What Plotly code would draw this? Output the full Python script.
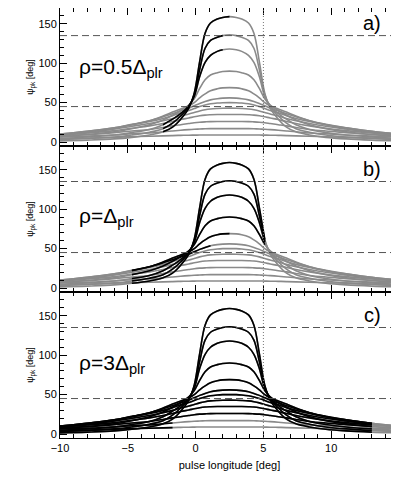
import plotly.graph_objects as go
from plotly.subplots import make_subplots

# pulse longitude sample points (deg)
lon = [-10, -8, -6, -4.7, -3.4, -2.4, -1.7, -1.1, -0.5, -0.1, 0.3, 0.7, 1.1, 1.6, 2.0,
       2.5, 3.0, 3.4, 3.9, 4.3, 4.7, 5.1, 5.5, 6.1, 6.7, 7.4, 8.4, 9.6, 11.1, 13, 15]

# psi_pk curves (same family in all three panels)
psi1 = [1.5, 2.5, 4, 6, 9, 13, 19, 29, 43, 62, 102, 138, 151, 156, 158,
        159, 158, 156, 151, 138, 102, 62, 43, 29, 19, 13, 9, 6, 4, 2.5, 1.5]
psi2 = [3, 4.5, 6.5, 9, 12.5, 17, 24, 33, 45, 60, 92, 119, 129, 133, 135,
        136, 135, 133, 129, 119, 92, 60, 45, 33, 24, 17, 12.5, 9, 6.5, 4.5, 3]
psi3 = [4.5, 6.5, 9, 12, 16, 22, 29, 36, 46, 58, 83, 101, 110, 115, 117,
        118, 117, 115, 110, 101, 83, 58, 46, 36, 29, 22, 16, 12, 9, 6.5, 4.5]
psi4 = [6.5, 9.5, 13, 17, 22, 28, 34, 40, 47, 55, 68, 79, 85, 88, 89.5,
        90, 89.5, 88, 85, 79, 68, 55, 47, 40, 34, 28, 22, 17, 13, 9.5, 6.5]
psi5 = [8.5, 12, 17, 22, 27, 33, 38, 42, 46, 50, 56, 61, 65, 67.5, 68.7,
        69, 68.7, 67.5, 65, 61, 56, 50, 46, 42, 38, 33, 27, 22, 17, 12, 8.5]
psi6 = [10, 13.5, 18, 22.5, 27, 32, 36, 39.5, 43, 46, 49, 51.5, 53.5, 55, 55.7,
        56, 55.7, 55, 53.5, 51.5, 49, 46, 43, 39.5, 36, 32, 27, 22.5, 18, 13.5, 10]
psi7 = [10, 13.5, 18, 22, 26, 30, 33.5, 37, 40, 42.5, 45, 47, 48.5, 49.5, 49.9,
        50, 49.9, 49.5, 48.5, 47, 45, 42.5, 40, 37, 33.5, 30, 26, 22, 18, 13.5, 10]
psi8 = [9.5, 12.5, 16.5, 20, 23.5, 27, 30, 33, 35.5, 37.5, 39.5, 41, 42, 42.6, 42.9,
        43, 42.9, 42.6, 42, 41, 39.5, 37.5, 35.5, 33, 30, 27, 23.5, 20, 16.5, 12.5, 9.5]
psi9 = [9, 11.5, 14.5, 17.5, 20.5, 23.5, 26, 28.5, 30.5, 32, 33.3, 34.2, 34.6, 34.9, 35,
        35, 35, 34.9, 34.6, 34.2, 33.3, 32, 30.5, 28.5, 26, 23.5, 20.5, 17.5, 14.5, 11.5, 9]
psi10 = [8, 9.5, 12, 14, 16, 18.5, 20.5, 22, 23.5, 24.5, 25.2, 25.6, 25.9, 26, 26,
         26, 26, 26, 25.9, 25.6, 25.2, 24.5, 23.5, 22, 20.5, 18.5, 16, 14, 12, 9.5, 8]
psi11 = [6.5, 7.5, 9, 10.5, 11.5, 13, 14, 15, 15.8, 16.2, 16.5, 16.8, 17, 17, 17,
         17, 17, 17, 17, 16.8, 16.5, 16.2, 15.8, 15, 14, 13, 11.5, 10.5, 9, 7.5, 6.5]
psi12 = [4, 5, 6, 6.8, 7.3, 7.8, 8.2, 8.5, 8.7, 8.8, 8.9, 9, 9, 9, 9,
         9, 9, 9, 9, 9, 8.9, 8.8, 8.7, 8.5, 8.2, 7.8, 7.3, 6.8, 6, 5, 4]
curves = [psi1, psi2, psi3, psi4, psi5, psi6, psi7, psi8, psi9, psi10, psi11, psi12]

panel_tags = ["a)", "b)", "c)"]
rho_labels = ["ρ=0.5Δ<sub>plr</sub>", "ρ=Δ<sub>plr</sub>", "ρ=3Δ<sub>plr</sub>"]

# longitude interval drawn in black, per panel and curve index
black_a = {0: (-2.4, 2.5), 1: (-2.4, 2.0), 2: (-2.4, 2.0)}
black_b = {0: (-4.7, 5.1), 1: (-4.7, 5.1), 2: (-4.7, 5.1), 3: (-4.7, 5.1),
           4: (-4.7, 2.5), 5: (-4.7, 1.1)}
black_c = {i: (-10, 13) for i in range(10)}
black_c[10] = (-10, -1.7)
black_c[11] = (-10, -1.7)
black_ranges = [black_a, black_b, black_c]

GREY = "#8a8a8a"
FONT = "Liberation Sans, Arial, sans-serif"

# the page body keeps an 8px margin, so the figure is sized to fit the window
fig = make_subplots(rows=3, cols=1, shared_xaxes=True, vertical_spacing=0,
                    row_heights=[138, 146, 146])

y_tops = [170, 180, 180]
rho_y = [94, 90, 89]

for r in range(3):
    row = r + 1
    for c in curves:
        fig.add_trace(go.Scatter(x=lon, y=c, mode="lines",
                                 line=dict(color=GREY, width=1.6, shape="spline"),
                                 showlegend=False, hoverinfo="skip"), row=row, col=1)
    for i, (lo, hi) in black_ranges[r].items():
        xs = [x for x in lon if lo <= x <= hi]
        ys = [y for x, y in zip(lon, curves[i]) if lo <= x <= hi]
        fig.add_trace(go.Scatter(x=xs, y=ys, mode="lines",
                                 line=dict(color="black", width=1.6, shape="spline"),
                                 showlegend=False, hoverinfo="skip"), row=row, col=1)
    for yv in (45, 135):
        fig.add_hline(y=yv, line=dict(color="#555555", width=1, dash="7px,4px"), row=row, col=1)
    fig.add_vline(x=5, line=dict(color="#777777", width=1, dash="1px,2px"), row=row, col=1)

    xref = "x" if row == 1 else "x%d" % row
    yref = "y" if row == 1 else "y%d" % row
    fig.add_annotation(text=panel_tags[r], xref=xref, yref=yref,
                       x=13.85, y=151, showarrow=False, xanchor="right", yanchor="middle",
                       font=dict(size=20, color="black", family=FONT))
    fig.add_annotation(text=rho_labels[r], xref=xref, yref=yref,
                       x=-8.75, y=rho_y[r], showarrow=False, xanchor="left", yanchor="middle",
                       font=dict(size=21, color="black", family=FONT))

    fig.update_yaxes(range=[-5, y_tops[r]], tickvals=[0, 50, 100, 150],
                     ticks="inside", ticklen=7, tickcolor="black",
                     minor=dict(dtick=10, ticklen=4, ticks="inside", tickcolor="black"),
                     showline=True, linecolor="black", linewidth=1, mirror="allticks",
                     showgrid=False, zeroline=False,
                     title=dict(text="ψ<sub>pk</sub> [deg]", font=dict(size=9, family=FONT),
                                standoff=3),
                     tickfont=dict(size=11, family=FONT, color="black"),
                     row=row, col=1)
    fig.update_xaxes(range=[-10, 15], tickvals=[-10, -5, 0, 5, 10, 15],
                     ticks="inside", ticklen=7, tickcolor="black",
                     minor=dict(dtick=1, ticklen=4, ticks="inside", tickcolor="black"),
                     showline=True, linecolor="black", linewidth=1, mirror="allticks",
                     showgrid=False, zeroline=False,
                     tickfont=dict(size=11, family=FONT, color="black"),
                     row=row, col=1)

fig.update_xaxes(title=dict(text="pulse longitude [deg]", font=dict(size=11, family=FONT),
                            standoff=8), row=3, col=1)

fig.update_layout(width=391, height=471, plot_bgcolor="white", paper_bgcolor="white",
                  margin=dict(l=52, r=0, t=0, b=41), font=dict(family=FONT, color="black"))

fig.write_html("out.html")
